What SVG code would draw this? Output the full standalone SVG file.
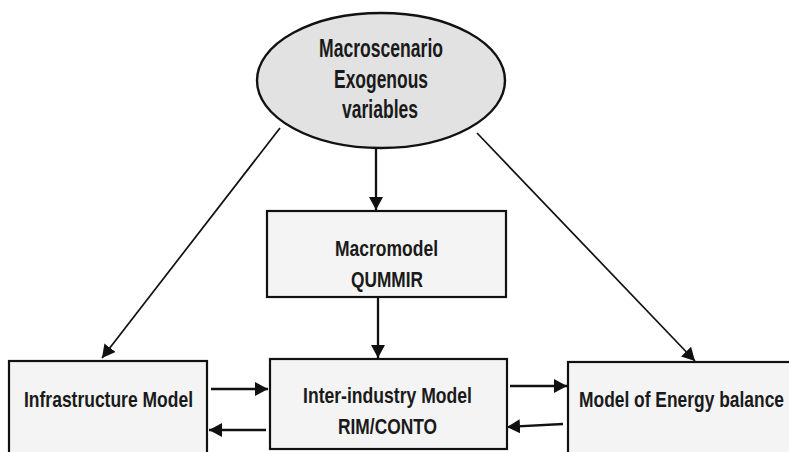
<svg xmlns="http://www.w3.org/2000/svg" width="789" height="452" viewBox="0 0 789 452">
<defs>
<marker id="ah" markerUnits="userSpaceOnUse" markerWidth="14" markerHeight="14" refX="13" refY="7" orient="auto">
<path d="M0,0 L13,7 L0,14 z" fill="#111"/>
</marker>
<style>
.box{fill:#f4f4f4;stroke:#111;stroke-width:2.2}
.ell{fill:#e2e2e2;stroke:#111;stroke-width:2.4}
.t{font-family:"Liberation Sans",Arial,sans-serif;font-weight:bold;fill:#1a1a1a;text-anchor:middle}
.c{stroke:#111;fill:none;marker-end:url(#ah)}
.thick{stroke-width:2.3}
.thin{stroke-width:1.7}
</style>
</defs>
<rect width="789" height="452" fill="#fff"/>
<g id="connectors">
<line class="c thick" x1="376" y1="149" x2="376" y2="210"/>
<line class="c thick" x1="378" y1="297" x2="378" y2="358"/>
<line class="c thin" x1="280" y1="128" x2="102" y2="358"/>
<line class="c thin" x1="477" y1="133" x2="695" y2="361"/>
<line class="c thick" x1="211" y1="389" x2="268" y2="389"/>
<line class="c thick" x1="266" y1="430" x2="209" y2="430"/>
<line class="c thick" x1="510" y1="386" x2="567" y2="386"/>
<line class="c thick" x1="563" y1="424" x2="507" y2="427"/>
</g>
<g id="macroscenario">
<ellipse class="ell" cx="381" cy="80.5" rx="124" ry="67.5"/>
<text class="t" font-size="26" x="381" y="57" textLength="124" lengthAdjust="spacingAndGlyphs">Macroscenario</text>
<text class="t" font-size="26" x="381" y="88" textLength="94" lengthAdjust="spacingAndGlyphs">Exogenous</text>
<text class="t" font-size="26" x="380" y="118" textLength="76" lengthAdjust="spacingAndGlyphs">variables</text>
</g>
<g id="macromodel">
<rect class="box" x="267" y="211" width="239" height="86"/>
<text class="t" font-size="22.5" x="386.5" y="256" textLength="103" lengthAdjust="spacingAndGlyphs">Macromodel</text>
<text class="t" font-size="22.5" x="387" y="287" textLength="72" lengthAdjust="spacingAndGlyphs">QUMMIR</text>
</g>
<g id="infrastructure">
<rect class="box" x="9" y="361" width="198" height="110"/>
<text class="t" font-size="22.5" x="108.5" y="407" textLength="169" lengthAdjust="spacingAndGlyphs">Infrastructure Model</text>
</g>
<g id="interindustry">
<rect class="box" x="270" y="359" width="237" height="90"/>
<text class="t" font-size="22.5" x="387.5" y="403" textLength="169" lengthAdjust="spacingAndGlyphs">Inter-industry Model</text>
<text class="t" font-size="22.5" x="387.5" y="434" textLength="99" lengthAdjust="spacingAndGlyphs">RIM/CONTO</text>
</g>
<g id="energy">
<rect class="box" x="568" y="362" width="240" height="110"/>
<text class="t" font-size="22.5" x="681.5" y="407" textLength="205" lengthAdjust="spacingAndGlyphs">Model of Energy balance</text>
</g>
</svg>
